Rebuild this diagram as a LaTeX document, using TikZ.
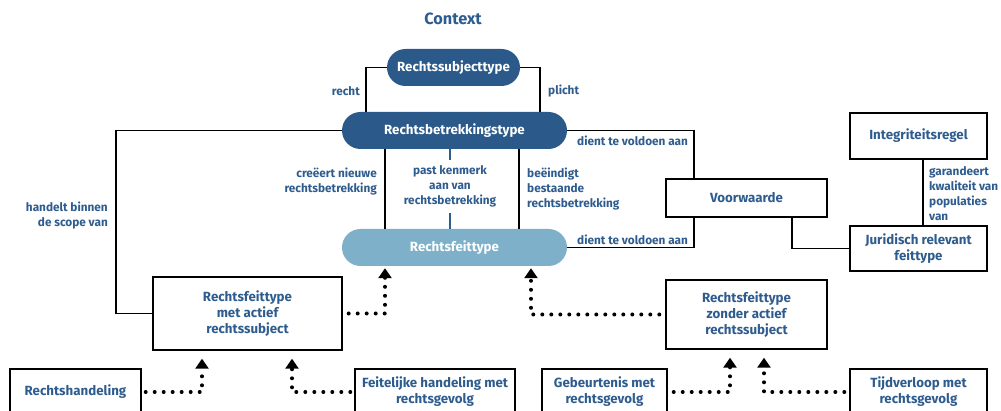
\documentclass[tikz,border=0pt]{standalone}
\usepackage{fontspec}
\setmainfont{Fira Sans}
\usetikzlibrary{arrows.meta,calc}
\definecolor{dkblue}{HTML}{2B5A8A}
\definecolor{ltblue}{HTML}{7EB0CA}
\definecolor{txblue}{HTML}{2E5C8E}
\tikzset{
  pill/.style={rounded corners=18.5pt, minimum height=37pt, inner sep=0pt, text=white, font=\bfseries\fontsize{13.3}{16}\selectfont},
  box/.style={draw=black, line width=1.4pt, fill=white, inner sep=0pt, align=center, text=txblue, font=\bfseries\fontsize{13.3}{16}\selectfont},
  lbl/.style={text=txblue, font=\bfseries\fontsize{11.8}{15}\selectfont, inner sep=0pt},
  conn/.style={line width=1.3pt, black},
  dotarrow/.style={line width=4pt, line cap=round, dash pattern=on 0pt off 9pt, -{Triangle[width=13pt,length=10pt]}},
}
\begin{document}
\begin{tikzpicture}[x=1pt,y=-1pt]
\useasboundingbox (0,0) rectangle (1001,411);
\clip (0,0) rectangle (1001,411);
\fill[white] (0,0) rectangle (1001,411);

% helper x-positions
\coordinate (x116) at (116,0);
\coordinate (x366) at (366,0);
\coordinate (x540) at (540,0);
\coordinate (x385) at (385,0);
\coordinate (x450) at (450,0);
\coordinate (x519) at (519,0);
\coordinate (x531) at (531,0);
\coordinate (x694) at (694,0);
\coordinate (x792) at (792,0);
\coordinate (x923) at (923,0);
\coordinate (x202) at (202,0);
\coordinate (x292) at (292,0);
\coordinate (x730) at (730,0);
\coordinate (x764) at (764,0);

\node[lbl, font=\bfseries\fontsize{16.3}{18}\selectfont] (ctx) at (453,19) {Context};

\node[pill, fill=dkblue, minimum width=133pt] (rst) at (453.5,67.5) {Rechtssubjecttype};
\node[pill, fill=dkblue, minimum width=225pt] (rbt) at (454.5,130.5) {Rechtsbetrekkingstype};
\node[pill, fill=ltblue, minimum width=225pt] (rft) at (454.5,247.5) {Rechtsfeittype};

\node[box, minimum width=161pt, minimum height=38pt] (voorw) at (746.5,198) {Voorwaarde};
\node[box, minimum width=137pt, minimum height=46pt] (integ) at (918.5,136) {Integriteitsregel};
\node[box, minimum width=137pt, minimum height=45pt] (jur) at (918.5,248.5) {Juridisch relevant\\feittype};
\node[box, minimum width=189pt, minimum height=73pt] (actief) at (247.5,313.5) {Rechtsfeittype\\met actief\\rechtssubject};
\node[box, minimum width=161pt, minimum height=69pt] (zonder) at (746.5,314.5) {Rechtsfeittype\\zonder actief\\rechtssubject};

\node[box, minimum width=131pt, minimum height=46pt] (rh) at (75.5,392) {Rechtshandeling};
\node[box, minimum width=160pt, minimum height=46pt] (feit) at (435,392) {Feitelijke handeling met\\rechtsgevolg};
\node[box, minimum width=125pt, minimum height=46pt] (geb) at (604.5,392) {Gebeurtenis met\\rechtsgevolg};
\node[box, minimum width=137pt, minimum height=46pt] (tijd) at (918.5,392) {Tijdverloop met\\rechtsgevolg};

% labels
\node[lbl, anchor=east] (lrecht) at (360,91) {recht};
\node[lbl, anchor=west] (lplicht) at (548,91) {plicht};
\node[lbl, anchor=east, align=right] (lscope) at (108,216) {handelt binnen\\de scope van};
\node[lbl, anchor=west] (ldient1) at (577,141) {dient te voldoen aan};
\node[lbl, anchor=west] (ldient2) at (577,240) {dient te voldoen aan};
\node[lbl, anchor=east, align=right] (lcreeert) at (377,181.5) {creëert nieuwe\\rechtsbetrekking};
\node[lbl, align=center, inner sep=0pt, minimum height=53pt] (lpast) at (450,186.5) {past kenmerk\\aan van\\rechtsbetrekking};
\node[lbl, anchor=west, align=left] (lbeeind) at (527,189) {beëindigt\\bestaande\\rechtsbetrekking};
\node[lbl, anchor=west, align=left] (lgar) at (929,194) {garandeert\\kwaliteit van\\populaties\\van};

% connectors
\draw[conn] (rst.west) -| (rbt.north -| x366);
\draw[conn] (rst.east) -| (rbt.north -| x540);
\draw[conn] (rbt.west) -| (actief.west -| x116) -- (actief.west);
\draw[conn] (rbt.south -| x385) -- (rft.north -| x385);
\draw[conn] (rbt.south -| x519) -- (rft.north -| x519);
\draw[line width=1.3pt, txblue] (rbt.south -| x450) -- (lpast.north);
\draw[line width=1.3pt, txblue] (lpast.south) -- (rft.north -| x450);
\draw[conn] (rbt.east) -| (voorw.north -| x694);
\draw[conn] (voorw.south -| x694) |- (rft.east);
\draw[conn] (voorw.south -| x792) |- (jur.west);
\draw[conn] (integ.south -| x923) -- (jur.north -| x923);

% dotted arrows
\draw[dotarrow, shorten >=2pt] ([xshift=6pt]actief.east) -| (rft.south -| x385);
\draw[dotarrow, shorten >=2pt] ([xshift=-6pt]zonder.west) -| (rft.south -| x531);
\draw[dotarrow, shorten >=8pt] ([xshift=4pt]rh.east) -| (actief.south -| x202);
\draw[dotarrow, shorten >=8pt] ([xshift=-4pt]feit.west) -| (actief.south -| x292);
\draw[dotarrow, shorten >=8pt] ([xshift=6pt]geb.east) -| (zonder.south -| x730);
\draw[dotarrow, shorten >=8pt] ([xshift=-5pt]tijd.west) -| (zonder.south -| x764);
\end{tikzpicture}
\end{document}
